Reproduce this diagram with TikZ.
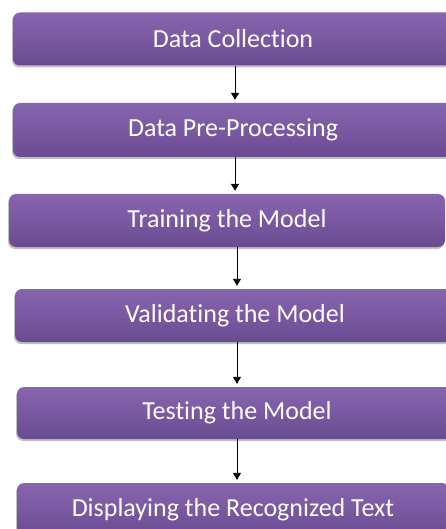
\documentclass[tikz,border=0pt]{standalone}
\usepackage{fontspec}
\setmainfont{Carlito}[Ligatures=NoCommon]
\usetikzlibrary{shadows,arrows.meta}
\definecolor{boxtop}{HTML}{8764AE}
\definecolor{boxmid}{HTML}{7A58A2}
\definecolor{boxbot}{HTML}{694B8F}
\tikzset{
  stagebox/.style={rounded corners=7pt, top color=boxtop, bottom color=boxbot, middle color=boxmid,
    draw=none, text=white, font=\fontsize{26}{30}\selectfont, minimum height=53pt, inner sep=0pt,
    drop shadow={shadow xshift=-1pt, shadow yshift=-2pt, opacity=0.35, fill=black!70}},
  flow/.style={line width=0.9pt, draw=black, -{Triangle[width=8pt,length=7pt]}, shorten >=3pt}
}
\begin{document}
\begin{tikzpicture}[x=1pt,y=-1pt]
\useasboundingbox (0,0) rectangle (446,529);
\clip (0,0) rectangle (446,529);
\node[stagebox, minimum width=440pt] (b1) at (233,39) {Data Collection};
\node[stagebox, minimum width=440pt, minimum height=54pt] (b2) at (233,130) {Data Pre-Processing};
\node[stagebox, minimum width=436pt] (b3) at (227,220.5) {Training the Model};
\node[stagebox, minimum width=440pt] (b4) at (235,315.5) {Validating the Model};
\node[stagebox, minimum width=440pt, minimum height=52pt] (b5) at (237,413) {Testing the Model};
\node[stagebox, minimum width=432pt, minimum height=54pt] (b6) at (233,510) {Displaying the Recognized Text};
\draw[flow] ([xshift=2pt]b1.south) -- ([xshift=2pt]b1.south |- b2.north);
\draw[flow] ([xshift=2pt]b2.south) -- ([xshift=2pt]b2.south |- b3.north);
\draw[flow] ([xshift=10pt]b3.south) -- ([xshift=10pt]b3.south |- b4.north);
\draw[flow] ([xshift=2pt]b4.south) -- ([xshift=2pt]b4.south |- b5.north);
\draw[flow] (b5.south) -- (b5.south |- b6.north);
\end{tikzpicture}
\end{document}
